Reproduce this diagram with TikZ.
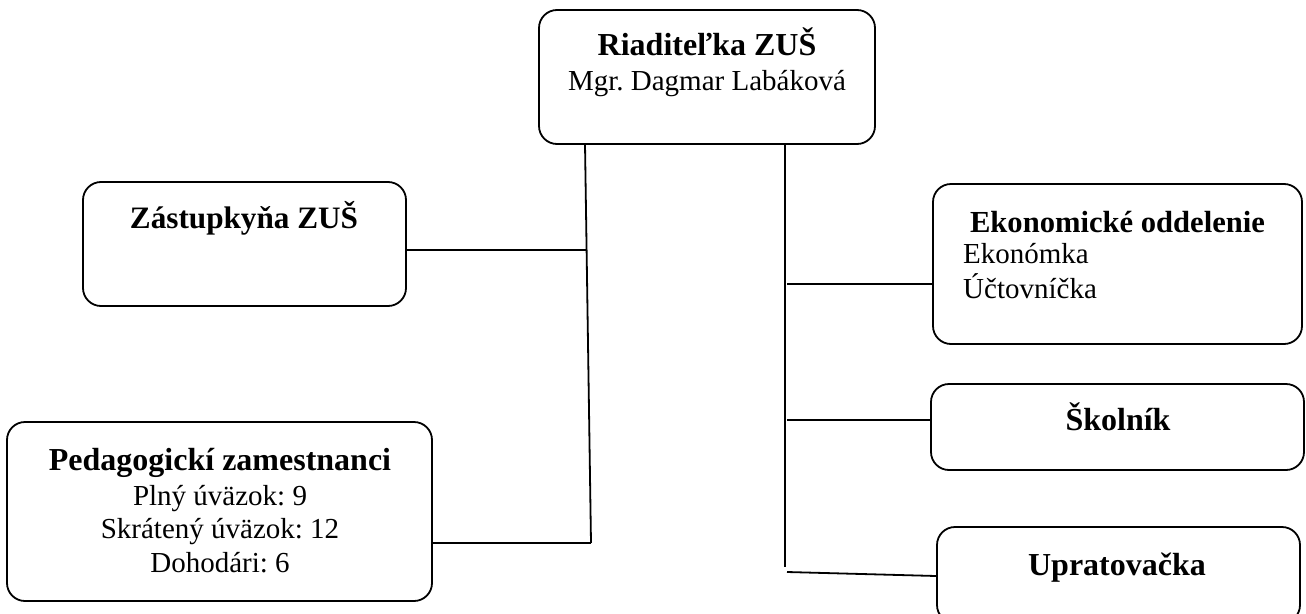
\documentclass[tikz,border=0pt]{standalone}
\usepackage{fontspec}
\setmainfont{Liberation Serif}
\frenchspacing
\begin{document}
\begin{tikzpicture}[x=1pt,y=-1pt,
  box/.style={draw, line width=1.8pt, rounded corners=18pt, inner sep=0pt},
  conn/.style={line width=1.8pt},
  ttl/.style={font=\fontsize{32}{36}\selectfont\bfseries, anchor=base, inner sep=0pt},
  txt/.style={font=\fontsize{29}{33}\selectfont, anchor=base, inner sep=0pt},
  txtl/.style={font=\fontsize{29}{33}\selectfont, anchor=base west, inner sep=0pt}]
\useasboundingbox (0,0) rectangle (1306,613);
\clip (0,0) rectangle (1306,613);
% boxes
\node[box, minimum width=336pt, minimum height=134pt] (riad) at (707,77) {};
\node[box, minimum width=323pt, minimum height=124pt] (zast) at (244.5,244) {};
\node[box, minimum width=425pt, minimum height=179pt] (ped) at (219.5,511.5) {};
\node[box, minimum width=369pt, minimum height=160pt] (eko) at (1117.5,264) {};
\node[box, minimum width=373pt, minimum height=86pt] (skol) at (1117.5,427) {};
\node[box, minimum width=363pt, minimum height=96pt] (uprat) at (1118.5,575) {};
% texts
\node[ttl] (riadT) at (707,55) {Riaditeľka ZUŠ};
\node[txt] (riadN) at (707,90) {Mgr. Dagmar Labáková};
\node[ttl, font=\fontsize{31.2}{36}\selectfont\bfseries] (zastT) at (244,228) {Zástupkyňa ZUŠ};
\node[ttl] (pedT) at (220,470) {Pedagogickí zamestnanci};
\node[txt] (ped1) at (220,505) {Plný úväzok: 9};
\node[txt] (ped2) at (220,538) {Skrátený úväzok: 12};
\node[txt] (ped3) at (220,572) {Dohodári: 6};
\node[ttl, font=\fontsize{30.6}{36}\selectfont\bfseries] (ekoT) at (1117.5,232) {Ekonomické oddelenie};
\node[txtl] (eko1) at (963,263) {Ekonómka};
\node[txtl] (eko2) at (963,298) {Účtovníčka};
\node[ttl] (skolT) at (1118,430) {Školník};
\node[ttl] (upratT) at (1117,575) {Upratovačka};
% connector coordinates
\coordinate (LT) at (585,144);
\coordinate (LZ) at (587,250);
\coordinate (LB) at (591,543);
\coordinate (RT) at (785,145);
\coordinate (RB) at (785,567);
\coordinate (RE) at (787,284);
\coordinate (RS) at (787,420);
\coordinate (RU) at (787,572);
% connectors
\draw[conn] (LT) -- (LB);
\draw[conn] (zast.east |- LZ) -- (LZ);
\draw[conn] (ped.east |- LB) -- (LB);
\draw[conn] (RT) -- (RB);
\draw[conn] (RE) -- (eko.west |- RE);
\draw[conn] (RS) -- (skol.west |- RS);
\draw[conn] (RU) -- ([yshift=-4pt]uprat.west |- RU);
\end{tikzpicture}
\end{document}
